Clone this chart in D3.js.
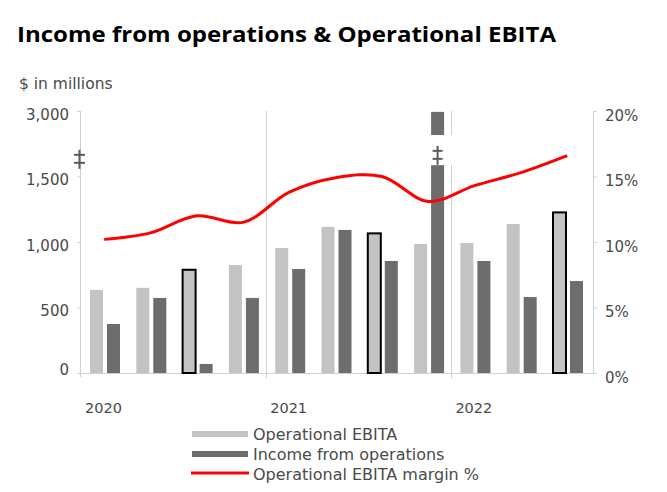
<!DOCTYPE html>
<html>
<head>
<meta charset="utf-8">
<script src="https://cdn.jsdelivr.net/npm/d3@7"></script>
<style>
  html, body { margin: 0; padding: 0; background: #fff; }
  svg { display: block; }
</style>
</head>
<body>
<svg id="chart" width="667" height="492"></svg>
<script>
// ---- data ----
const quarters = ["Q1 2020","Q2 2020","Q3 2020","Q4 2020","Q1 2021","Q2 2021","Q3 2021","Q4 2021","Q1 2022","Q2 2022","Q3 2022"];
const years = ["2020","2021","2022"];
const yearStartQuarter = ["Q1 2020","Q1 2021","Q1 2022"];
const operationalEbita = [634, 650, 788, 824, 954, 1115, 1066, 985, 992, 1137, 1226];
const incomeFromOperations = [374, 573, 69, 573, 794, 1092, 855, 2980, 855, 580, 702];
const ebitaMargin = [10.2, 10.7, 12.0, 11.5, 13.8, 14.9, 15.0, 13.1, 14.3, 15.3, 16.6];
const highlighted = ["Q3 2020","Q3 2021","Q3 2022"];
const leftTicks = [0, 500, 1000, 1500, 3000];
const rightTicks = [0, 5, 10, 15, 20];
const breakRange = [1760, 2450];
const legendItems = ["Operational EBITA", "Income from operations", "Operational EBITA margin %"];

// ---- layout ----
const svg = d3.select("#chart");
const FONT = "'DejaVu Sans', Verdana, sans-serif";
const textCol = "#4a4a4a";
const axisCol = "#cfcfcf";
const ebitaCol = "#c5c2c6";
const incomeCol = "#6d6d6d";

const x = d3.scaleBand().domain(quarters).range([81, 590.3]).paddingInner(0).paddingOuter(0);
const xs = d3.scaleBand().domain(["ebita","income"]).range([9, 39]).paddingInner(0.235);
const y = d3.scaleLinear().domain([0, 1500, 3000]).range([373, 176.5, 111]);
const yr = d3.scaleLinear().domain([0, 20]).range([373, 111]);

// title
svg.append("text").attr("x", 17).attr("y", 42)
  .attr("font-family", "'Open Sans', 'Noto Sans', sans-serif").attr("font-weight", 700)
  .attr("font-size", 21).attr("fill", "#000")
  .attr("textLength", 539).attr("lengthAdjust", "spacingAndGlyphs")
  .text("Income from operations & Operational EBITA");

svg.append("text").attr("x", 19).attr("y", 89)
  .attr("font-family", FONT).attr("font-size", 15.5).attr("fill", textCol)
  .text("$ in millions");

// left axis
const gl = svg.append("g").attr("transform", "translate(81,0)")
  .call(d3.axisLeft(y).tickValues(leftTicks).tickSize(4).tickPadding(8).tickFormat(d3.format(",")));
gl.select(".domain").attr("stroke", axisCol).attr("d", `M-0.5,${y(3000)}V377`);
gl.selectAll(".tick line").attr("stroke", axisCol);
gl.selectAll(".tick text").attr("font-family", FONT).attr("font-size", 15).attr("fill", textCol)
  .attr("dy", d => d === 0 ? "0.1em" : "0.55em");

// right axis
const gr = svg.append("g").attr("transform", "translate(593,0)")
  .call(d3.axisRight(yr).tickValues(rightTicks).tickSize(4).tickPadding(8).tickFormat(d => d + "%"));
gr.select(".domain").attr("stroke", axisCol).attr("d", `M0.5,${yr(20)}V${yr(0)}`);
gr.selectAll(".tick line").attr("stroke", axisCol);
gr.selectAll(".tick text").attr("font-family", FONT).attr("font-size", 15).attr("fill", textCol).attr("dy", "0.6em");

// baseline
svg.append("line").attr("x1", 81).attr("x2", 593).attr("y1", y(0) + 0.5).attr("y2", y(0) + 0.5)
  .attr("stroke", axisCol);

// year separators
yearStartQuarter.slice(1).forEach(q => {
  svg.append("line").attr("x1", Math.round(x(q)) + 0.5).attr("x2", Math.round(x(q)) + 0.5)
    .attr("y1", y(3000)).attr("y2", 378).attr("stroke", axisCol);
});

// year labels
svg.append("g").selectAll("text").data(years).join("text")
  .attr("x", (d, i) => x(yearStartQuarter[i]) + 4).attr("y", 413)
  .attr("font-family", FONT).attr("font-size", 14.5).attr("fill", textCol)
  .text(d => d);

// bars
const rows = quarters.map((q, i) => ({ q, ebita: operationalEbita[i], income: incomeFromOperations[i], hl: highlighted.includes(q) }));
const gb = svg.append("g");
gb.selectAll("rect.ebita").data(rows).join("rect").attr("class", "ebita")
  .attr("x", d => x(d.q) + xs("ebita")).attr("width", xs.bandwidth())
  .attr("y", d => y(d.ebita)).attr("height", d => y(0) - y(d.ebita))
  .attr("fill", ebitaCol)
  .attr("stroke", d => d.hl ? "#000" : "none").attr("stroke-width", 2);
gb.selectAll("rect.income").data(rows).join("rect").attr("class", "income")
  .attr("x", d => x(d.q) + xs("income")).attr("width", xs.bandwidth())
  .attr("y", d => y(d.income)).attr("height", d => y(0) - y(d.income))
  .attr("fill", incomeCol);

// axis break on the tall bar
const brk = rows.filter(d => d.income > 1500);
brk.forEach(d => {
  const bx = x(d.q) + xs("income");
  const yTop = y(breakRange[1]), yBot = y(breakRange[0]);
  svg.append("rect").attr("x", bx - 1).attr("width", xs.bandwidth() + 12)
    .attr("y", yTop).attr("height", yBot - yTop).attr("fill", "#fff");
  drawBreak(bx + xs.bandwidth() / 2, y(1950) - 2, 10);
});
drawBreak(79.5, y(1950) + 2, 11);

function drawBreak(cx, cy, w) {
  const g = svg.append("g").attr("stroke", "#5f5a55").attr("stroke-width", 2);
  g.append("line").attr("x1", cx).attr("x2", cx).attr("y1", cy - 9).attr("y2", cy + 10);
  g.append("line").attr("x1", cx - w / 2).attr("x2", cx + w / 2).attr("y1", cy - 4).attr("y2", cy - 4);
  g.append("line").attr("x1", cx - w / 2).attr("x2", cx + w / 2).attr("y1", cy + 4).attr("y2", cy + 4);
}

// margin line
const line = d3.line()
  .x((d, i) => x(quarters[i]) + x.bandwidth() / 2)
  .y(d => yr(d))
  .curve(d3.curveCatmullRom.alpha(0.5));
svg.append("path").datum(ebitaMargin).attr("d", line)
  .attr("fill", "none").attr("stroke", "#ff0000").attr("stroke-width", 3);

// legend
const lg = svg.append("g");
legendItems.forEach((t, i) => {
  const cy = 434 + i * 20;
  if (i < 2) {
    lg.append("rect").attr("x", 192).attr("y", cy - 3).attr("width", 56).attr("height", 6)
      .attr("fill", i === 0 ? ebitaCol : incomeCol);
  } else {
    lg.append("line").attr("x1", 191).attr("x2", 249).attr("y1", cy - 1).attr("y2", cy - 1)
      .attr("stroke", "#ff0000").attr("stroke-width", 3);
  }
  lg.append("text").attr("x", 253).attr("y", cy + 5.5)
    .attr("font-family", FONT).attr("font-size", 16).attr("fill", textCol).text(t);
});
</script>
</body>
</html>
